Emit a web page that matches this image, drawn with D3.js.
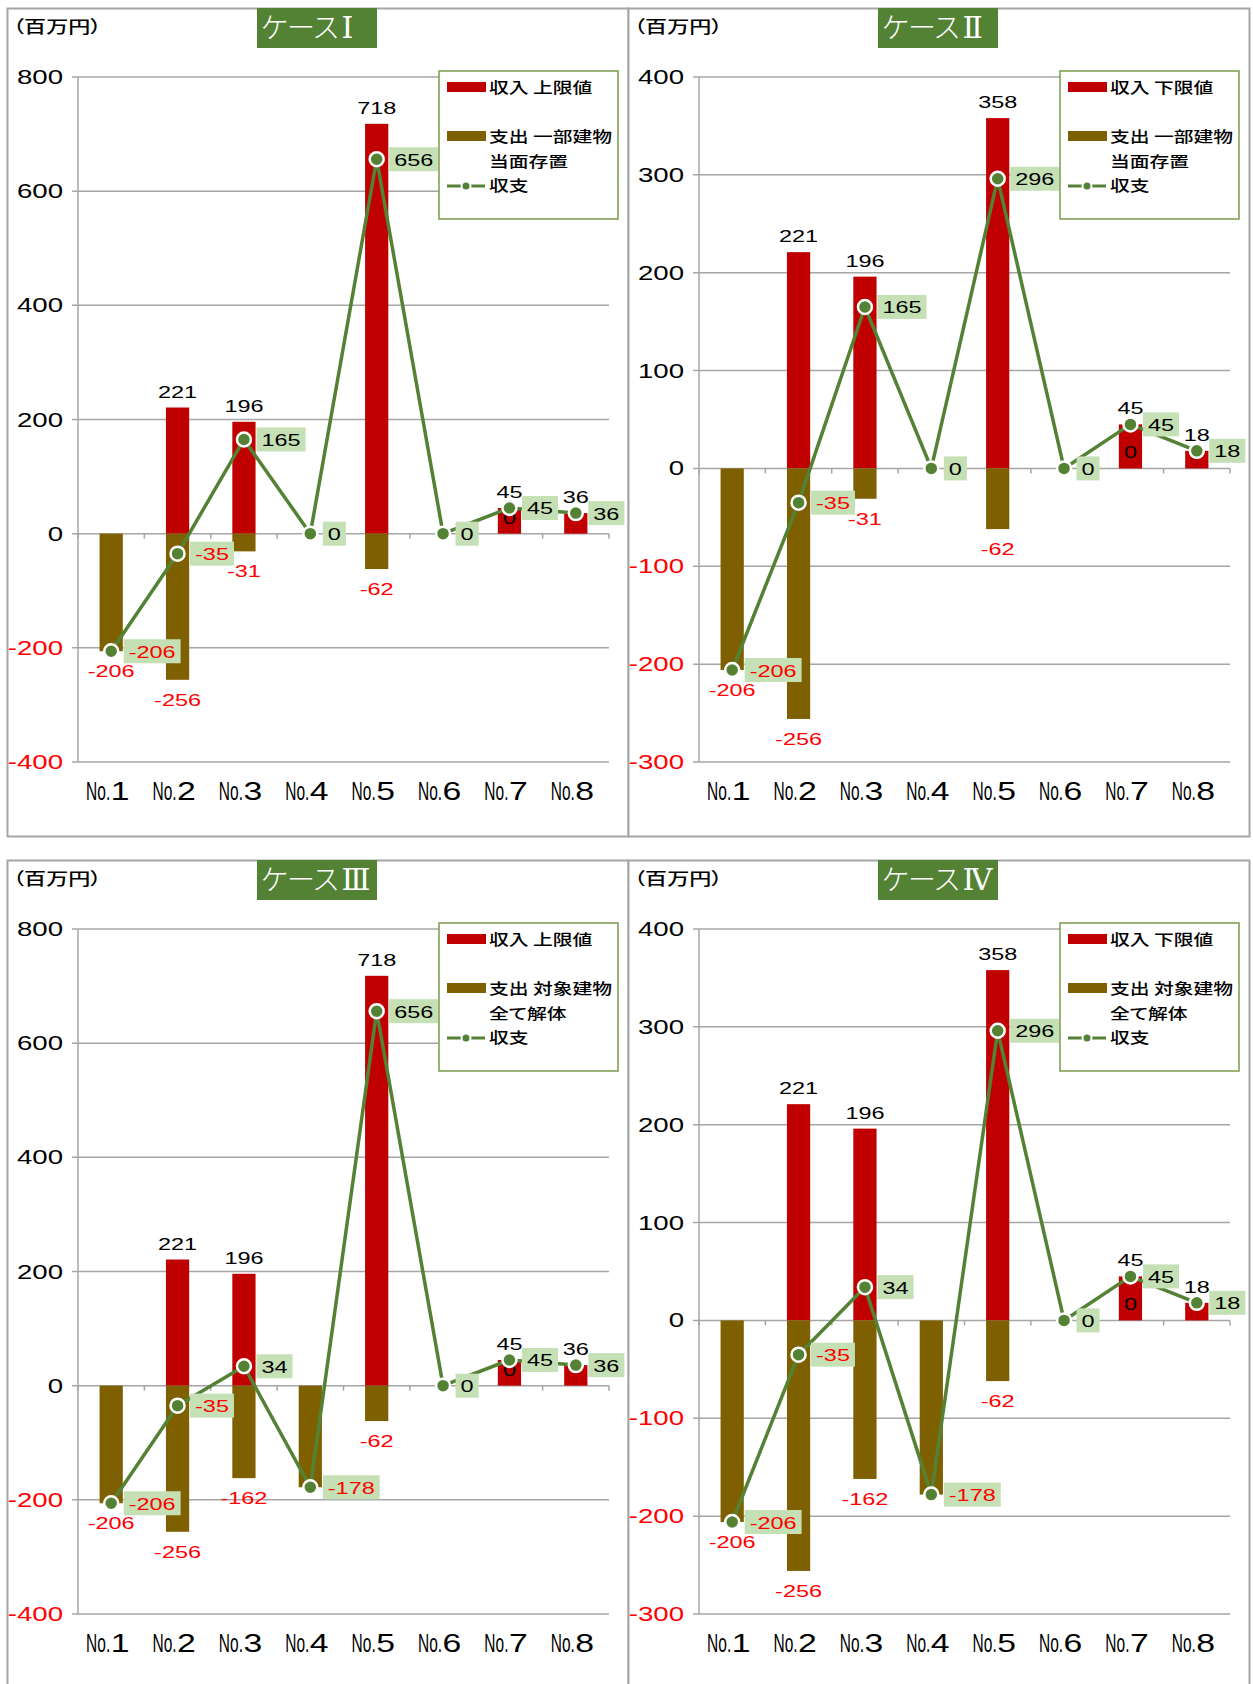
<!DOCTYPE html>
<html>
<head>
<meta charset="utf-8">
<script src="https://cdn.jsdelivr.net/npm/d3@7"></script>
<style>
  html, body { margin: 0; padding: 0; background: #fff; }
  svg { display: block; }
  .cjk { font-family: "Noto Sans CJK JP", sans-serif; font-feature-settings: "palt"; }
  .num { font-family: "Liberation Sans", Arial, sans-serif; }
</style>
</head>
<body>
<svg id="chart" width="1253" height="1684"></svg>
<script>
// ---- data (百万円) ----
const categories = ["No.1", "No.2", "No.3", "No.4", "No.5", "No.6", "No.7", "No.8"];

const incomeUpper = [null, 221, 196, null, 718, null, 45, 36];   // 収入 上限値
const incomeLower = [null, 221, 196, null, 358, null, 45, 18];   // 収入 下限値
const costPartial = [-206, -256, -31, null, -62, null, 0, null];  // 支出 一部建物当面存置
const costFull    = [-206, -256, -162, -178, -62, null, 0, null]; // 支出 対象建物全て解体

const balanceI   = [-206, -35, 165, 0, 656, 0, 45, 36];
const balanceII  = [-206, -35, 165, 0, 296, 0, 45, 18];
const balanceIII = [-206, -35, 34, -178, 656, 0, 45, 36];
const balanceIV  = [-206, -35, 34, -178, 296, 0, 45, 18];

const ticksUpper = [-400, -200, 0, 200, 400, 600, 800];
const ticksLower = [-300, -200, -100, 0, 100, 200, 300, 400];

const titlePrefix = "ケース";
const titleNumerals = ["Ⅰ", "Ⅱ", "Ⅲ", "Ⅳ"];
const unitLabel = "（百万円）";
const incomeNames = ["収入 上限値", "収入 下限値"];
const costNames = [["支出 一部建物", "当面存置"], ["支出 対象建物", "全て解体"]];
const balanceName = "収支";

// cost labels that are not shown (index into categories)
const hiddenCostLabels = [[], [], [3], [3]];

const cases = [
  { num: titleNumerals[0], income: incomeUpper, incomeName: incomeNames[0], cost: costPartial, costName: costNames[0], balance: balanceI,   ticks: ticksUpper },
  { num: titleNumerals[1], income: incomeLower, incomeName: incomeNames[1], cost: costPartial, costName: costNames[0], balance: balanceII,  ticks: ticksLower },
  { num: titleNumerals[2], income: incomeUpper, incomeName: incomeNames[0], cost: costFull,    costName: costNames[1], balance: balanceIII, ticks: ticksUpper },
  { num: titleNumerals[3], income: incomeLower, incomeName: incomeNames[1], cost: costFull,    costName: costNames[1], balance: balanceIV,  ticks: ticksLower }
];

// ---- style ----
const C = {
  income: "#C00000",
  cost: "#7F6000",
  line: "#548235",
  labelBg: "#C5E0B4",
  neg: "#FF0000",
  grid: "#A6A6A6",
  frame: "#A6A6A6",
  legendFrame: "#7A9A4A",
  titleBg: "#548235"
};
const SX = 1.38;          // horizontal stretch of chart text

const svg = d3.select("#chart");

function stext(g, x, y, str, o) {
  const t = g.append("text")
    .attr("class", o.cls || "num")
    .attr("transform", `translate(${x},${y}) scale(${o.sx == null ? SX : o.sx},1)`)
    .attr("text-anchor", o.anchor || "start")
    .style("font-size", (o.size || 17) + "px")
    .style("font-weight", o.weight || "normal")
    .attr("fill", o.fill || "#000")
    .text(str);
  return t;
}

const fmt = v => String(v);   // plain hyphen-minus for negatives
const colW = 621, rowH = 852;

cases.forEach((cs, i) => {
  const col = i % 2, row = Math.floor(i / 2);
  const g = svg.append("g").attr("transform", `translate(${col * colW},${row * rowH})`);

  // panel frame
  g.append("rect").attr("x", 7.5).attr("y", 8.5).attr("width", 621).attr("height", 828)
    .attr("fill", "#fff").attr("stroke", C.frame).attr("stroke-width", 2);

  const x = d3.scaleBand().domain(categories).range([78, 609]).paddingInner(0.65).paddingOuter(0.325);
  const bw = x.bandwidth();
  const cx = c => x(c) + bw / 2;
  const y = d3.scaleLinear().domain(d3.extent(cs.ticks)).range([762, 77]);

  // gridlines with left ticks, and the value axis line
  g.selectAll(".grid").data(cs.ticks).enter().append("line")
    .attr("x1", 72).attr("x2", 609).attr("y1", d => y(d)).attr("y2", d => y(d))
    .attr("stroke", C.grid).attr("stroke-width", 1.5);
  g.append("line").attr("x1", 78).attr("x2", 78).attr("y1", y.range()[1]).attr("y2", y.range()[0])
    .attr("stroke", C.grid).attr("stroke-width", 1.5);

  // category axis at zero with boundary ticks
  const bounds = d3.range(categories.length + 1).map(k => 78 + k * x.step());
  g.selectAll(".ctick").data(bounds).enter().append("line")
    .attr("x1", d => d).attr("x2", d => d).attr("y1", y(0)).attr("y2", y(0) + 5)
    .attr("stroke", C.grid).attr("stroke-width", 1.5);

  // y tick labels
  cs.ticks.forEach(t => {
    stext(g, 63, y(t) + 7, fmt(t), { anchor: "end", size: 20, fill: t < 0 ? C.neg : "#000" });
  });

  // bars
  const incomeData = categories.map((c, k) => ({ c, v: cs.income[k] })).filter(d => d.v != null);
  const costData = categories.map((c, k) => ({ c, v: cs.cost[k], k })).filter(d => d.v != null);
  g.selectAll(".inc").data(incomeData).enter().append("rect")
    .attr("x", d => x(d.c)).attr("width", bw)
    .attr("y", d => y(Math.max(0, d.v))).attr("height", d => Math.abs(y(d.v) - y(0)))
    .attr("fill", C.income);
  g.selectAll(".cost").data(costData).enter().append("rect")
    .attr("x", d => x(d.c)).attr("width", bw)
    .attr("y", d => y(Math.max(0, d.v))).attr("height", d => Math.abs(y(d.v) - y(0)))
    .attr("fill", C.cost);

  // bar value labels
  const barLabel = d => {
    const lx = cx(d.c);
    const ly = d.v >= 0 ? y(d.v) - 10 : y(d.v) + 26;
    stext(g, lx, ly, fmt(d.v), { anchor: "middle", size: 17, fill: d.v < 0 ? C.neg : "#000" });
  };
  incomeData.forEach(barLabel);
  costData.filter(d => !hiddenCostLabels[i].includes(d.k)).forEach(barLabel);

  // balance line
  const pts = categories.map((c, k) => ({ c, v: cs.balance[k] }));
  g.append("path").datum(pts)
    .attr("d", d3.line().x(d => cx(d.c)).y(d => y(d.v)))
    .attr("fill", "none").attr("stroke", C.line).attr("stroke-width", 3.5).attr("stroke-linejoin", "round");
  g.selectAll(".pt").data(pts).enter().append("circle")
    .attr("cx", d => cx(d.c)).attr("cy", d => y(d.v)).attr("r", 7)
    .attr("fill", C.line).attr("stroke", "#fff").attr("stroke-width", 2.5);

  // balance labels in boxes
  pts.forEach(d => {
    const bx = cx(d.c) + 12.5, by = y(d.v);
    const box = g.append("rect").attr("fill", C.labelBg);
    const t = stext(g, bx + 5, by + 6.5, fmt(d.v), { size: 17, fill: d.v < 0 ? C.neg : "#000" });
    const w = t.node().getComputedTextLength() * SX;
    box.attr("x", bx).attr("y", by - 12).attr("width", w + 10).attr("height", 24);
  });

  // category labels
  categories.forEach(c => {
    const m = c.match(/^(No\.)(\d+)$/);
    const px = cx(c);
    stext(g, px - 1, 800, m[1], { anchor: "end", size: 25, sx: 0.62 });
    stext(g, px - 0.5, 800, m[2], { anchor: "start", size: 25, sx: 1.35 });
  });

  // unit
  stext(g, 13, 33, unitLabel, { cls: "cjk", size: 17, sx: 1.3, weight: 500 });

  // title
  g.append("rect").attr("x", 257).attr("y", 8).attr("width", 120).attr("height", 40).attr("fill", C.titleBg);
  const tt = stext(g, 261, 38, "", { cls: "cjk", size: 28, sx: 1.0, fill: "#fff", weight: 300 });
  tt.append("tspan").text(titlePrefix);
  tt.append("tspan").attr("dx", 3).style("font-family", '"DejaVu Serif", serif').style("font-size", "30px").text(cs.num);

  // legend
  const lg = g.append("g");
  lg.append("rect").attr("x", 439).attr("y", 71).attr("width", 179).attr("height", 148)
    .attr("fill", "#fff").attr("stroke", C.legendFrame).attr("stroke-width", 1.5);
  lg.append("rect").attr("x", 447).attr("y", 82).attr("width", 39).attr("height", 10).attr("fill", C.income);
  lg.append("rect").attr("x", 447).attr("y", 131).attr("width", 39).attr("height", 10).attr("fill", C.cost);
  lg.append("line").attr("x1", 447).attr("x2", 485).attr("y1", 186).attr("y2", 186)
    .attr("stroke", C.line).attr("stroke-width", 3);
  lg.append("circle").attr("cx", 466).attr("cy", 186).attr("r", 4.5)
    .attr("fill", C.line).attr("stroke", "#fff").attr("stroke-width", 2);
  const lo = { cls: "cjk", size: 15, sx: 1.32, weight: 500 };
  stext(lg, 489, 93, cs.incomeName, lo);
  stext(lg, 489, 142, cs.costName[0], lo);
  stext(lg, 489, 167, cs.costName[1], lo);
  stext(lg, 489, 191, balanceName, lo);
});
</script>
</body>
</html>
